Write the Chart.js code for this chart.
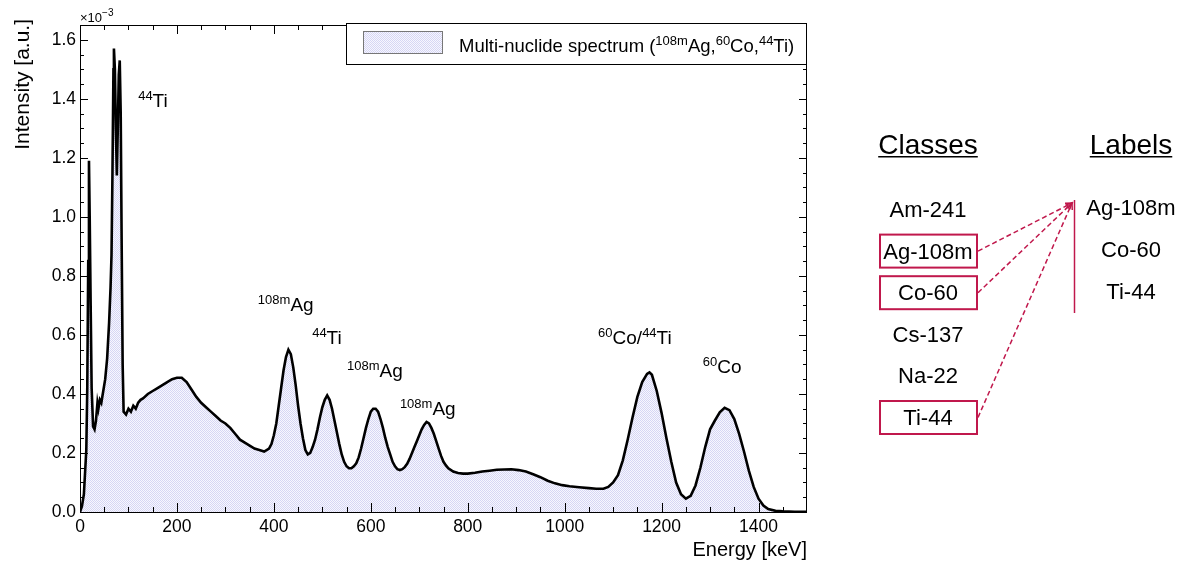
<!DOCTYPE html>
<html>
<head>
<meta charset="utf-8">
<script src="https://cdn.jsdelivr.net/npm/chart.js@4/dist/chart.umd.min.js"></script>
<style>
  html, body { margin: 0; padding: 0; background: #fff; }
  #wrap { width: 1186px; height: 562px; position: relative; }
</style>
</head>
<body>
<div id="wrap"><canvas id="chart"></canvas></div>
<script>
// gamma spectrum, energy in keV, intensity in units of 1e-3
const energy = [
  0, 4, 8, 11, 13, 15, 17, 18.5, 20, 22,
  24, 27, 30, 33, 36, 38, 41, 44, 48, 52,
  56, 60, 63, 65, 67, 69, 70, 72, 74, 76,
  78, 80, 82, 84, 86, 88, 90, 95, 100, 105,
  110, 115, 120, 125, 130, 140, 150, 160, 170, 180,
  190, 200, 210, 220, 230, 240, 250, 260, 270, 280,
  290, 300, 310, 320, 330, 340, 350, 360, 370, 380,
  390, 395, 400, 405, 410, 415, 420, 425, 430, 435,
  440, 445, 450, 455, 460, 465, 470, 475, 480, 485,
  490, 495, 500, 505, 510, 515, 520, 525, 530, 535,
  540, 545, 550, 555, 560, 565, 570, 575, 580, 585,
  590, 595, 600, 605, 610, 615, 620, 625, 630, 635,
  640, 645, 650, 655, 660, 665, 670, 675, 680, 685,
  690, 695, 700, 705, 710, 715, 720, 725, 730, 735,
  740, 745, 750, 755, 760, 770, 780, 790, 800, 815,
  830, 845, 860, 875, 890, 905, 920, 935, 950, 965,
  980, 995, 1010, 1030, 1050, 1065, 1080, 1090, 1100, 1110,
  1120, 1130, 1140, 1150, 1160, 1170, 1175, 1180, 1190, 1200,
  1210, 1220, 1230, 1240, 1250, 1260, 1270, 1280, 1290, 1300,
  1310, 1320, 1330, 1340, 1350, 1360, 1370, 1380, 1390, 1400,
  1410, 1420, 1435, 1450, 1475, 1500
];
const intensity = [
  0.00, 0.02, 0.06, 0.15, 0.21, 0.42, 0.85, 1.19, 1.00, 0.70,
  0.42, 0.29, 0.28, 0.31, 0.37, 0.35, 0.38, 0.37, 0.41, 0.45,
  0.52, 0.64, 0.76, 0.87, 1.15, 1.50, 1.57, 1.50, 1.30, 1.14,
  1.30, 1.48, 1.53, 1.35, 0.90, 0.50, 0.34, 0.33, 0.35, 0.34,
  0.36, 0.35, 0.37, 0.38, 0.385, 0.40, 0.41, 0.42, 0.43, 0.44,
  0.45, 0.455, 0.455, 0.44, 0.415, 0.39, 0.37, 0.355, 0.34, 0.325,
  0.31, 0.30, 0.285, 0.265, 0.245, 0.235, 0.225, 0.215, 0.21, 0.205,
  0.215, 0.23, 0.26, 0.30, 0.36, 0.42, 0.48, 0.525, 0.55, 0.535,
  0.49, 0.43, 0.36, 0.30, 0.25, 0.21, 0.195, 0.20, 0.22, 0.245,
  0.28, 0.32, 0.355, 0.38, 0.395, 0.38, 0.35, 0.31, 0.27, 0.23,
  0.195, 0.17, 0.155, 0.148, 0.148, 0.155, 0.165, 0.185, 0.215, 0.25,
  0.285, 0.315, 0.34, 0.35, 0.35, 0.34, 0.315, 0.285, 0.25, 0.22,
  0.195, 0.17, 0.155, 0.145, 0.142, 0.145, 0.152, 0.163, 0.18, 0.20,
  0.22, 0.24, 0.26, 0.28, 0.295, 0.305, 0.30, 0.285, 0.265, 0.24,
  0.215, 0.19, 0.17, 0.158, 0.148, 0.137, 0.132, 0.13, 0.13, 0.133,
  0.137, 0.14, 0.143, 0.144, 0.145, 0.142, 0.137, 0.128, 0.118, 0.106,
  0.097, 0.091, 0.087, 0.084, 0.081, 0.079, 0.079, 0.085, 0.10, 0.125,
  0.175, 0.245, 0.32, 0.39, 0.44, 0.468, 0.473, 0.465, 0.41, 0.335,
  0.25, 0.17, 0.10, 0.06, 0.045, 0.055, 0.09, 0.15, 0.22, 0.28,
  0.31, 0.338, 0.353, 0.345, 0.315, 0.265, 0.205, 0.14, 0.085, 0.045,
  0.022, 0.010, 0.004, 0.002, 0.001, 0.001
];

// axis ranges
const xRange = [0, 1500];
const yRange = [0, 1.65];

// peak labels: [isotope mass, element] pieces, anchored at (keV, intensity)
const peakNotes = [
  { e: 120, y: 1.373, parts: [['44', 1], ['Ti', 0]] },
  { e: 367, y: 0.681, parts: [['108m', 1], ['Ag', 0]] },
  { e: 479, y: 0.569, parts: [['44', 1], ['Ti', 0]] },
  { e: 551, y: 0.458, parts: [['108m', 1], ['Ag', 0]] },
  { e: 660, y: 0.329, parts: [['108m', 1], ['Ag', 0]] },
  { e: 1069, y: 0.569, parts: [['60', 1], ['Co/', 0], ['44', 1], ['Ti', 0]] },
  { e: 1285, y: 0.471, parts: [['60', 1], ['Co', 0]] }
];
const legendParts = [['Multi-nuclide spectrum (', 0], ['108m', 1], ['Ag,', 0], ['60', 1], ['Co,', 0], ['44', 1], ['Ti)', 0]];

// class -> label mapping panel
const classes = ['Am-241', 'Ag-108m', 'Co-60', 'Cs-137', 'Na-22', 'Ti-44'];
const labelNames = ['Ag-108m', 'Co-60', 'Ti-44'];

const FONT = '"Liberation Sans", Arial, Helvetica, sans-serif';
const RED = '#c0184c';

const canvas = document.getElementById('chart');
const ctx0 = canvas.getContext('2d');

function dotPattern() {
  const c = document.createElement('canvas');
  c.width = 2; c.height = 2;
  const g = c.getContext('2d');
  g.fillStyle = '#f7f7fe';
  g.fillRect(0, 0, 2, 2);
  g.fillStyle = '#d6d6f4';
  g.fillRect(0, 0, 1, 1);
  g.fillRect(1, 1, 1, 1);
  return ctx0.createPattern(c, 'repeat');
}
const fillPattern = dotPattern();

function richText(ctx, x, y, parts, size, supSize, rise) {
  let cx = x;
  for (const [txt, sup] of parts) {
    ctx.font = (sup ? supSize : size) + 'px ' + FONT;
    ctx.fillText(txt, cx, sup ? y - rise : y);
    cx += ctx.measureText(txt).width;
  }
  return cx;
}

function isMajorY(v) {
  const r = v / 0.2;
  return Math.abs(r - Math.round(r)) < 1e-6;
}

function arrow(ctx, x0, y0, x1, y1) {
  ctx.save();
  ctx.strokeStyle = RED;
  ctx.lineWidth = 1.5;
  ctx.setLineDash([5, 3]);
  ctx.beginPath();
  ctx.moveTo(x0, y0);
  ctx.lineTo(x1, y1);
  ctx.stroke();
  ctx.setLineDash([]);
  const a = Math.atan2(y1 - y0, x1 - x0);
  const h = 7;
  ctx.beginPath();
  ctx.moveTo(x1 - h * Math.cos(a - 0.45), y1 - h * Math.sin(a - 0.45));
  ctx.lineTo(x1, y1);
  ctx.lineTo(x1 - h * Math.cos(a + 0.45), y1 - h * Math.sin(a + 0.45));
  ctx.stroke();
  ctx.restore();
}

const decorations = {
  id: 'decorations',
  afterDraw(chart) {
    const ctx = chart.ctx;
    const { left, right, top, bottom } = chart.chartArea;
    const xs = chart.scales.x, ys = chart.scales.y;
    ctx.save();

    // frame
    ctx.strokeStyle = '#000';
    ctx.lineWidth = 1;
    ctx.strokeRect(left + 0.5, top + 0.5, right - left - 1, bottom - top);

    // ticks on all four sides, pointing inward
    ctx.beginPath();
    xs.ticks.forEach(t => {
      if (t.value <= xRange[0] || t.value >= xRange[1]) return;
      const px = Math.round(xs.getPixelForValue(t.value)) + 0.5;
      const len = t.value % 200 === 0 ? 9 : 5;
      ctx.moveTo(px, bottom); ctx.lineTo(px, bottom - len);
      ctx.moveTo(px, top); ctx.lineTo(px, top + len);
    });
    ys.ticks.forEach(t => {
      if (t.value <= yRange[0] || t.value >= yRange[1]) return;
      const py = Math.round(ys.getPixelForValue(t.value)) + 0.5;
      const len = isMajorY(t.value) ? 8 : 4;
      ctx.moveTo(left, py); ctx.lineTo(left + len, py);
      ctx.moveTo(right, py); ctx.lineTo(right - len, py);
    });
    ctx.stroke();

    ctx.fillStyle = '#000';
    ctx.textAlign = 'left';
    ctx.textBaseline = 'alphabetic';

    // exponent above the y axis
    richText(ctx, left, 22, [['\u00d710', 0], ['\u22123', 1]], 13, 10, 6);

    // axis titles
    ctx.font = '20px ' + FONT;
    ctx.textAlign = 'right';
    ctx.fillText('Energy [keV]', right, 556);
    ctx.save();
    ctx.translate(29, top - 6);
    ctx.rotate(-Math.PI / 2);
    ctx.font = '21px ' + FONT;
    ctx.fillText('Intensity [a.u.]', 0, 0);
    ctx.restore();

    // peak labels
    ctx.textAlign = 'left';
    peakNotes.forEach(n => {
      richText(ctx, xs.getPixelForValue(n.e), ys.getPixelForValue(n.y), n.parts, 19, 13, 7);
    });

    // legend box
    const lx = 346.5, ly = top - 1.5, lw = right - 346 - 1, lh = 41;
    ctx.fillStyle = '#fff';
    ctx.fillRect(lx, ly, lw, lh);
    ctx.strokeStyle = '#000';
    ctx.strokeRect(lx, ly, lw, lh);
    ctx.fillStyle = fillPattern;
    ctx.fillRect(363, 31, 80, 23);
    ctx.strokeStyle = '#777';
    ctx.strokeRect(363.5, 31.5, 79, 22);
    ctx.fillStyle = '#000';
    richText(ctx, 459, 52, legendParts, 18.5, 13, 7);

    // classes / labels panel
    const cxC = 928, cxL = 1131;
    ctx.textAlign = 'center';
    ctx.font = '28px ' + FONT;
    [['Classes', cxC], ['Labels', cxL]].forEach(([t, cx]) => {
      ctx.fillText(t, cx, 154);
      const w = ctx.measureText(t).width;
      ctx.fillRect(cx - w / 2, 156, w, 1.5);
    });
    ctx.font = '22px ' + FONT;
    const boxes = {};
    classes.forEach((c, i) => {
      const by = 217 + i * 41.6;
      ctx.fillStyle = '#000';
      ctx.fillText(c, cxC, by);
      if (labelNames.includes(c)) {
        ctx.strokeStyle = RED;
        ctx.lineWidth = 2;
        ctx.strokeRect(880, by - 24, 97, 33);
        boxes[c] = by - 7.5;
      }
    });
    labelNames.forEach((l, i) => {
      ctx.fillStyle = '#000';
      ctx.fillText(l, cxL, 215 + i * 42);
    });
    ctx.strokeStyle = RED;
    ctx.lineWidth = 1.5;
    ctx.beginPath();
    ctx.moveTo(1074.5, 200);
    ctx.lineTo(1074.5, 313);
    ctx.stroke();
    labelNames.forEach(l => arrow(ctx, 978, boxes[l], 1072, 203));

    ctx.restore();
  }
};

new Chart(canvas, {
  type: 'line',
  data: {
    datasets: [{
      label: 'Multi-nuclide spectrum',
      data: energy.map((e, i) => ({ x: e, y: intensity[i] })),
      borderColor: '#000',
      borderWidth: 2.6,
      backgroundColor: fillPattern,
      fill: 'origin',
      pointRadius: 0,
      tension: 0
    }]
  },
  options: {
    responsive: true,
    maintainAspectRatio: false,
    animation: false,
    layout: { padding: { left: 0, right: 379, top: 25, bottom: 0 } },
    plugins: { legend: { display: false }, tooltip: { enabled: false } },
    scales: {
      x: {
        type: 'linear',
        min: xRange[0], max: xRange[1],
        grid: { display: false, drawTicks: false },
        border: { display: false },
        afterFit: s => { s.height = 50; },
        ticks: {
          stepSize: 50,
          autoSkip: false,
          maxRotation: 0,
          padding: 5,
          color: '#000',
          font: { family: FONT, size: 17.5 },
          callback: v => (v % 200 === 0 ? String(v) : '')
        }
      },
      y: {
        type: 'linear',
        min: yRange[0], max: yRange[1],
        grid: { display: false, drawTicks: false },
        border: { display: false },
        afterFit: s => { s.width = 80; },
        ticks: {
          stepSize: 0.05,
          autoSkip: false,
          padding: 4,
          color: '#000',
          font: { family: FONT, size: 17.5 },
          callback: v => (isMajorY(v) ? v.toFixed(1) : '')
        }
      }
    }
  },
  plugins: [decorations]
});
</script>
</body>
</html>
